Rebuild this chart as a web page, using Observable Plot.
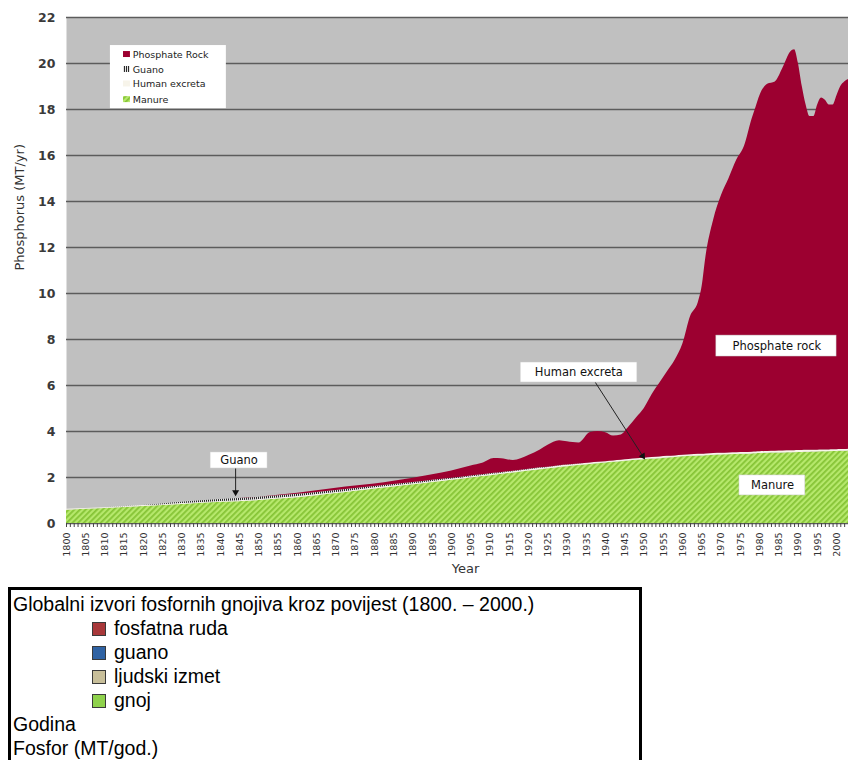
<!DOCTYPE html>
<html>
<head>
<meta charset="utf-8">
<script src="https://cdn.jsdelivr.net/npm/d3@7"></script>
<script src="https://cdn.jsdelivr.net/npm/@observablehq/plot@0.6"></script>
<style>
  html, body { margin: 0; padding: 0; background: #fff; overflow: hidden; }
  #chart { position: absolute; left: 0; top: 0; }
  #chart svg { display: block; }
  #legend {
    position: absolute; left: 8px; top: 587px; width: 634px; height: 200px;
    border: 3px solid #000; background: #fff;
    font-family: "Liberation Sans", Arial, sans-serif; font-size: 19.5px; color: #000;
    padding: 2px 0 0 2px; box-sizing: border-box;
  }
  #legend .row { height: 24px; line-height: 24px; white-space: nowrap; }
  #legend .item { height: 24px; line-height: 24px; padding-left: 79px; white-space: nowrap; }
  #legend .sw { display: inline-block; width: 12px; height: 12px; border: 1.5px solid #3a3a3a; vertical-align: -1px; margin-right: 8px; }
</style>
</head>
<body>
<div id="chart"></div>
<div id="legend"></div>
<script>
// ---- data (MT P / yr) ----
const years = [1800,1810,1820,1825,1830,1840,1850,1855,1860,1865,1870,1875,1880,1885,1890,1895,1900,1905,1908,1911,1913,1916,1920,1923,1925,1928,1930,1933,1936,1938,1940,1942,1944,1946,1948,1950,1952,1954,1956,1958,1960,1962,1964,1965,1966,1968,1970,1972,1974,1976,1978,1979,1980,1982,1984,1986,1988,1989,1990,1991,1992,1993,1994,1995,1996,1997,1998,1999,2000,2001,2002,2003];

const manure = [0.58,0.65,0.74,0.78,0.83,0.92,1.00,1.06,1.12,1.21,1.30,1.40,1.50,1.59,1.68,1.78,1.88,1.98,2.04,2.10,2.14,2.20,2.28,2.34,2.38,2.44,2.47,2.52,2.57,2.60,2.63,2.66,2.69,2.72,2.75,2.77,2.80,2.82,2.85,2.87,2.90,2.92,2.94,2.94,2.95,2.97,2.98,2.99,3.00,3.01,3.02,3.03,3.04,3.05,3.06,3.07,3.08,3.08,3.09,3.09,3.10,3.10,3.11,3.11,3.12,3.12,3.12,3.13,3.13,3.14,3.14,3.15];

const humanExcreta = [0.04,0.04,0.04,0.04,0.04,0.04,0.04,
  0.05,0.05,0.05,0.05,0.05,0.05,0.05,0.05,0.05,0.05,0.05,0.05,0.05,0.05,0.05,
  0.06,0.06,0.06,0.06,0.06,0.06,0.06,0.06,0.06,0.06,0.06,0.06,0.06,
  0.07,0.07,0.07,0.07,0.07,0.07,0.07,0.07,0.07,0.07,0.07,0.07,
  0.08,0.08,0.08,0.08,0.08,0.08,0.08,0.08,0.08,0.08,0.08,0.08,0.08,0.08,0.08,0.08,0.08,0.08,0.08,0.08,0.08,0.08,0.08,0.08,0.08];

const guano = [0,0,0,0.03,0.05,0.08,0.10,0.10,0.10,0.09,0.08,0.07,0.06,0.06,0.05,0.05,0.04,0.04,0.03,0.03,0.03,0.02,0.02,0.02,0.01,0.01,0.01,0.01,
  0,0,0,0,0,0,0,0,0,0,0,0,0,0,0,0,0,0,0,0,0,0,0,0,0,0,0,0,0,0,0,0,0,0,0,0,0,0,0,0,0,0];

const phosphateRock = [0,0,0,0,0,0,0,
  0.02,0.05,0.07,0.10,0.11,0.11,0.14,0.19,0.24,0.31,
  0.43,0.50,0.65,0.60,0.47,0.60,0.78,0.95,1.09,1.01,
  0.91,1.33,1.34,1.26,1.08,1.10,1.42,1.79,2.16,2.73,
  3.21,3.68,4.16,4.83,6.01,6.59,7.29,8.58,10.16,11.20,
  11.93,12.72,13.31,14.50,14.99,15.48,15.97,16.06,16.65,17.34,
  17.44,16.83,15.83,15.02,14.52,14.51,15.01,15.30,15.20,15.00,
  14.99,15.39,15.78,15.98,16.07];

const seriesOrder = ["Manure", "Human excreta", "Guano", "Phosphate rock"];
const seriesFills = ["url(#manureHatch)", "#f7f4ea", "url(#guanoStripe)", "#9c0030"];

const yTicks = [0,2,4,6,8,10,12,14,16,18,20,22];
const xLabelTicks = [1800,1805,1810,1815,1820,1825,1830,1835,1840,1845,1850,1855,1860,1865,1870,1875,1880,1885,1890,1895,1900,1905,1910,1915,1920,1925,1930,1935,1940,1945,1950,1955,1960,1965,1970,1975,1980,1985,1990,1995,2000];
const xMinorTicks = d3.range(1800, 2003, 1);

// in-chart legend
const legendLabels = ["Phosphate Rock", "Guano", "Human excreta", "Manure"];
const legendKeys = ["Phosphate rock", "Guano", "Human excreta", "Manure"];
const legendRowY = [20.39, 19.74, 19.11, 18.43];
const legendBox = [{x1: 1811.4, x2: 1841.5, y1: 18.04, y2: 20.78}];

// annotations (label boxes in data units)
const annotations = [
  {label: "Guano", italic: false, x1: 1837.4, x2: 1852.2, y1: 2.39, y2: 3.09, cx: 1844.8, cy: 2.74},
  {label: "Human excreta", italic: true, x1: 1917.9, x2: 1948.2, y1: 6.13, y2: 7.00, cx: 1933.0, cy: 6.57},
  {label: "Phosphate rock", italic: true, x1: 1968.7, x2: 1999.9, y1: 7.26, y2: 8.17, cx: 1984.4, cy: 7.72},
  {label: "Manure", italic: true, x1: 1974.7, x2: 1991.8, y1: 1.22, y2: 2.09, cx: 1983.3, cy: 1.65}
];
const pointers = [
  {x1: 1843.9, y1: 2.39, x2: 1843.9, y2: 1.36, rot: 180},
  {x1: 1937.3, y1: 6.13, x2: 1949.6, y2: 2.93, rot: 147}
];

// bottom (Croatian) legend
const hrTitle = "Globalni izvori fosfornih gnojiva kroz povijest (1800. – 2000.)";
const hrItems = ["fosfatna ruda", "guano", "ljudski izmet", "gnoj"];
const hrColors = ["#a8383a", "#2f62a3", "#c8bf9a", "#8fd24c"];
const hrAxes = ["Godina", "Fosfor (MT/god.)"];

// ---- build ----
const rows = [];
years.forEach((yr, i) => {
  rows.push({year: yr, series: "Manure", value: manure[i]});
  rows.push({year: yr, series: "Human excreta", value: humanExcreta[i]});
  rows.push({year: yr, series: "Guano", value: guano[i]});
  rows.push({year: yr, series: "Phosphate rock", value: phosphateRock[i]});
});

const legendRows = legendLabels.map((l, i) => ({label: l, key: legendKeys[i], y: legendRowY[i]}));

const chart = Plot.plot({
  width: 848,
  height: 585,
  marginLeft: 66,
  marginRight: 0,
  marginTop: 17,
  marginBottom: 62,
  style: {fontFamily: "'DejaVu Sans', sans-serif", background: "#fff", overflow: "visible"},
  x: {domain: [1800, 2003], label: null},
  y: {domain: [0, 22], label: null},
  color: {domain: seriesOrder, range: seriesFills},
  marks: [
    Plot.frame({fill: "#c0c0c0", stroke: null}),
    Plot.gridY(yTicks, {stroke: "#5c5c5c", strokeOpacity: 1, strokeWidth: 1.4}),
    Plot.areaY(rows, Plot.stackY({x: "year", y: "value", z: "series", fill: "series", order: seriesOrder, curve: "monotone-x"})),
    Plot.axisY(yTicks, {tickSize: 4, tickPadding: 7, fontSize: 12.5, fontWeight: "bold", fill: "#3a3a3a", stroke: null, label: null, tickFormat: d => String(d)}),
    Plot.axisX(xMinorTicks, {tickSize: 4, tickFormat: () => "", label: null, stroke: "#444"}),
    Plot.axisX(xLabelTicks, {tickSize: 0, tickRotate: -90, tickPadding: 9, fontSize: 9.5, fill: "#333", tickFormat: d => String(d), label: null}),
    Plot.text(["Phosphorus (MT/yr)"], {frameAnchor: "left", rotate: -90, dx: -47, fontSize: 13, fill: "#333"}),
    Plot.text(["Year"], {frameAnchor: "bottom", dy: 49, dx: 8, fontSize: 13, fill: "#333"}),
    // in-chart legend
    Plot.rect(legendBox, {x1: "x1", x2: "x2", y1: "y1", y2: "y2", fill: "#fff"}),
    Plot.rect(legendRows, {x1: () => 1814.8, x2: () => 1816.6, y1: d => d.y - 0.13, y2: d => d.y + 0.13, fill: "key"}),
    Plot.text(legendRows, {x: () => 1817.2, y: "y", text: "label", textAnchor: "start", fontSize: 9.5, fill: "#222"}),
    // annotations
    Plot.rect(annotations, {x1: "x1", x2: "x2", y1: "y1", y2: "y2", fill: "#fff", stroke: "#c8c8c8", strokeWidth: 0.5}),
    Plot.text(annotations, {x: "cx", y: "cy", text: "label", fontSize: 11.5, fill: "#111", fontStyle: d => d.italic ? "italic" : "normal"}),
    Plot.link(pointers, {x1: "x1", y1: "y1", x2: "x2", y2: "y2", stroke: "#222", strokeWidth: 1}),
    Plot.dot(pointers, {x: "x2", y: "y2", symbol: "triangle", r: 2.6, fill: "#111", stroke: null, rotate: "rot"})
  ]
});

d3.select(chart).insert("defs", ":first-child").html(`
  <pattern id="manureHatch" patternUnits="userSpaceOnUse" width="4" height="4" patternTransform="rotate(45)">
    <rect width="4" height="4" fill="#b6e86c"></rect>
    <rect x="0" width="1.8" height="4" fill="#86c436"></rect>
  </pattern>
  <pattern id="guanoStripe" patternUnits="userSpaceOnUse" width="2" height="2">
    <rect width="2" height="2" fill="#e4e4e4"></rect>
    <rect x="0" width="1" height="2" fill="#2a2a2a"></rect>
  </pattern>
`);
document.getElementById("chart").appendChild(chart);

// bottom legend
const lg = d3.select("#legend");
lg.append("div").attr("class", "row").text(hrTitle);
hrItems.forEach((t, i) => {
  const it = lg.append("div").attr("class", "item");
  it.append("span").attr("class", "sw").style("background", hrColors[i]);
  it.append("span").text(t);
});
hrAxes.forEach(t => lg.append("div").attr("class", "row").text(t));
</script>
</body>
</html>
